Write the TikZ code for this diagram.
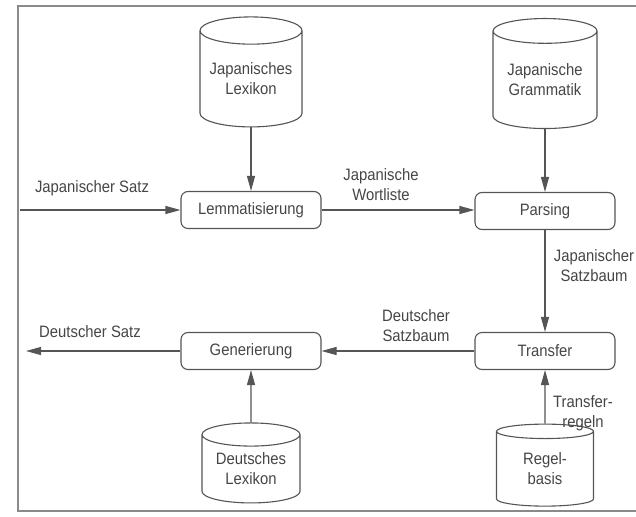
\documentclass[tikz,border=0pt]{standalone}
\usepackage{fontspec}
\setmainfont{Liberation Sans}[FakeStretch=0.9]
\usetikzlibrary{arrows.meta,shapes.geometric}
\definecolor{ink}{HTML}{555555}
\definecolor{txt}{HTML}{454545}
\definecolor{frame}{HTML}{8A8A8A}
\begin{document}
\begin{tikzpicture}[x=1pt,y=-1pt,
  font=\fontsize{16.5}{20}\selectfont,
  every node/.style={text=txt},
  proc/.style={draw=ink, line width=1.1pt, rounded corners=7pt, minimum width=140pt, minimum height=37pt, inner sep=0pt},
  db/.style={draw=ink, line width=1.1pt, cylinder, shape border rotate=90, aspect=0.33, align=center, inner sep=0pt},
  lbl/.style={align=center, inner sep=0pt},
  flow/.style={draw=ink, line width=1.1pt, -{Triangle[length=15pt,width=8pt]}}
]
\useasboundingbox (0,0) rectangle (636,516);
\draw[frame, line width=1.2pt] (636,6) -- (18,6) -- (18,511) -- (636,511);

\node[db, minimum width=102pt, minimum height=110pt] (jl) at (251,79) {Japanisches\\Lexikon};
\node[db, minimum width=104pt, minimum height=110pt] (jg) at (545,80) {Japanische\\Grammatik};
\node[db, minimum width=98pt, minimum height=80pt] (dl) at (251,469) {Deutsches\\Lexikon};
\node[db, minimum width=97pt, minimum height=82pt] (rb) at (545,469) {Regel-\\basis};

\node[proc] (lem) at (251,210) {Lemmatisierung};
\node[proc] (par) at (545,211) {Parsing};
\node[proc] (tra) at (545,351) {Transfer};
\node[proc] (gen) at (251,351) {Generierung};

\coordinate (in) at (20,210);
\coordinate (out) at (26,351);

\draw[flow] (jl) -- (lem);
\draw[flow] (jg) -- (par);
\draw[flow] (in) -- (lem);
\draw[flow] (lem) -- (lem -| par.west);
\draw[flow] (par) -- (tra);
\draw[flow] (tra) -- (gen);
\draw[flow] (gen) -- (out);
\draw[flow] (dl) -- (gen);
\draw[flow] (rb) -- (tra);

\node[lbl] (l1) at (92,188) {Japanischer Satz};
\node[lbl] (l2) at (381,185) {Japanische\\Wortliste};
\node[lbl] (l3) at (594,266) {Japanischer\\Satzbaum};
\node[lbl] (l4) at (416,326) {Deutscher\\Satzbaum};
\node[lbl] (l5) at (90,332) {Deutscher Satz};
\node[lbl] (l6) at (583,413) {Transfer-\\regeln};
\end{tikzpicture}
\end{document}
